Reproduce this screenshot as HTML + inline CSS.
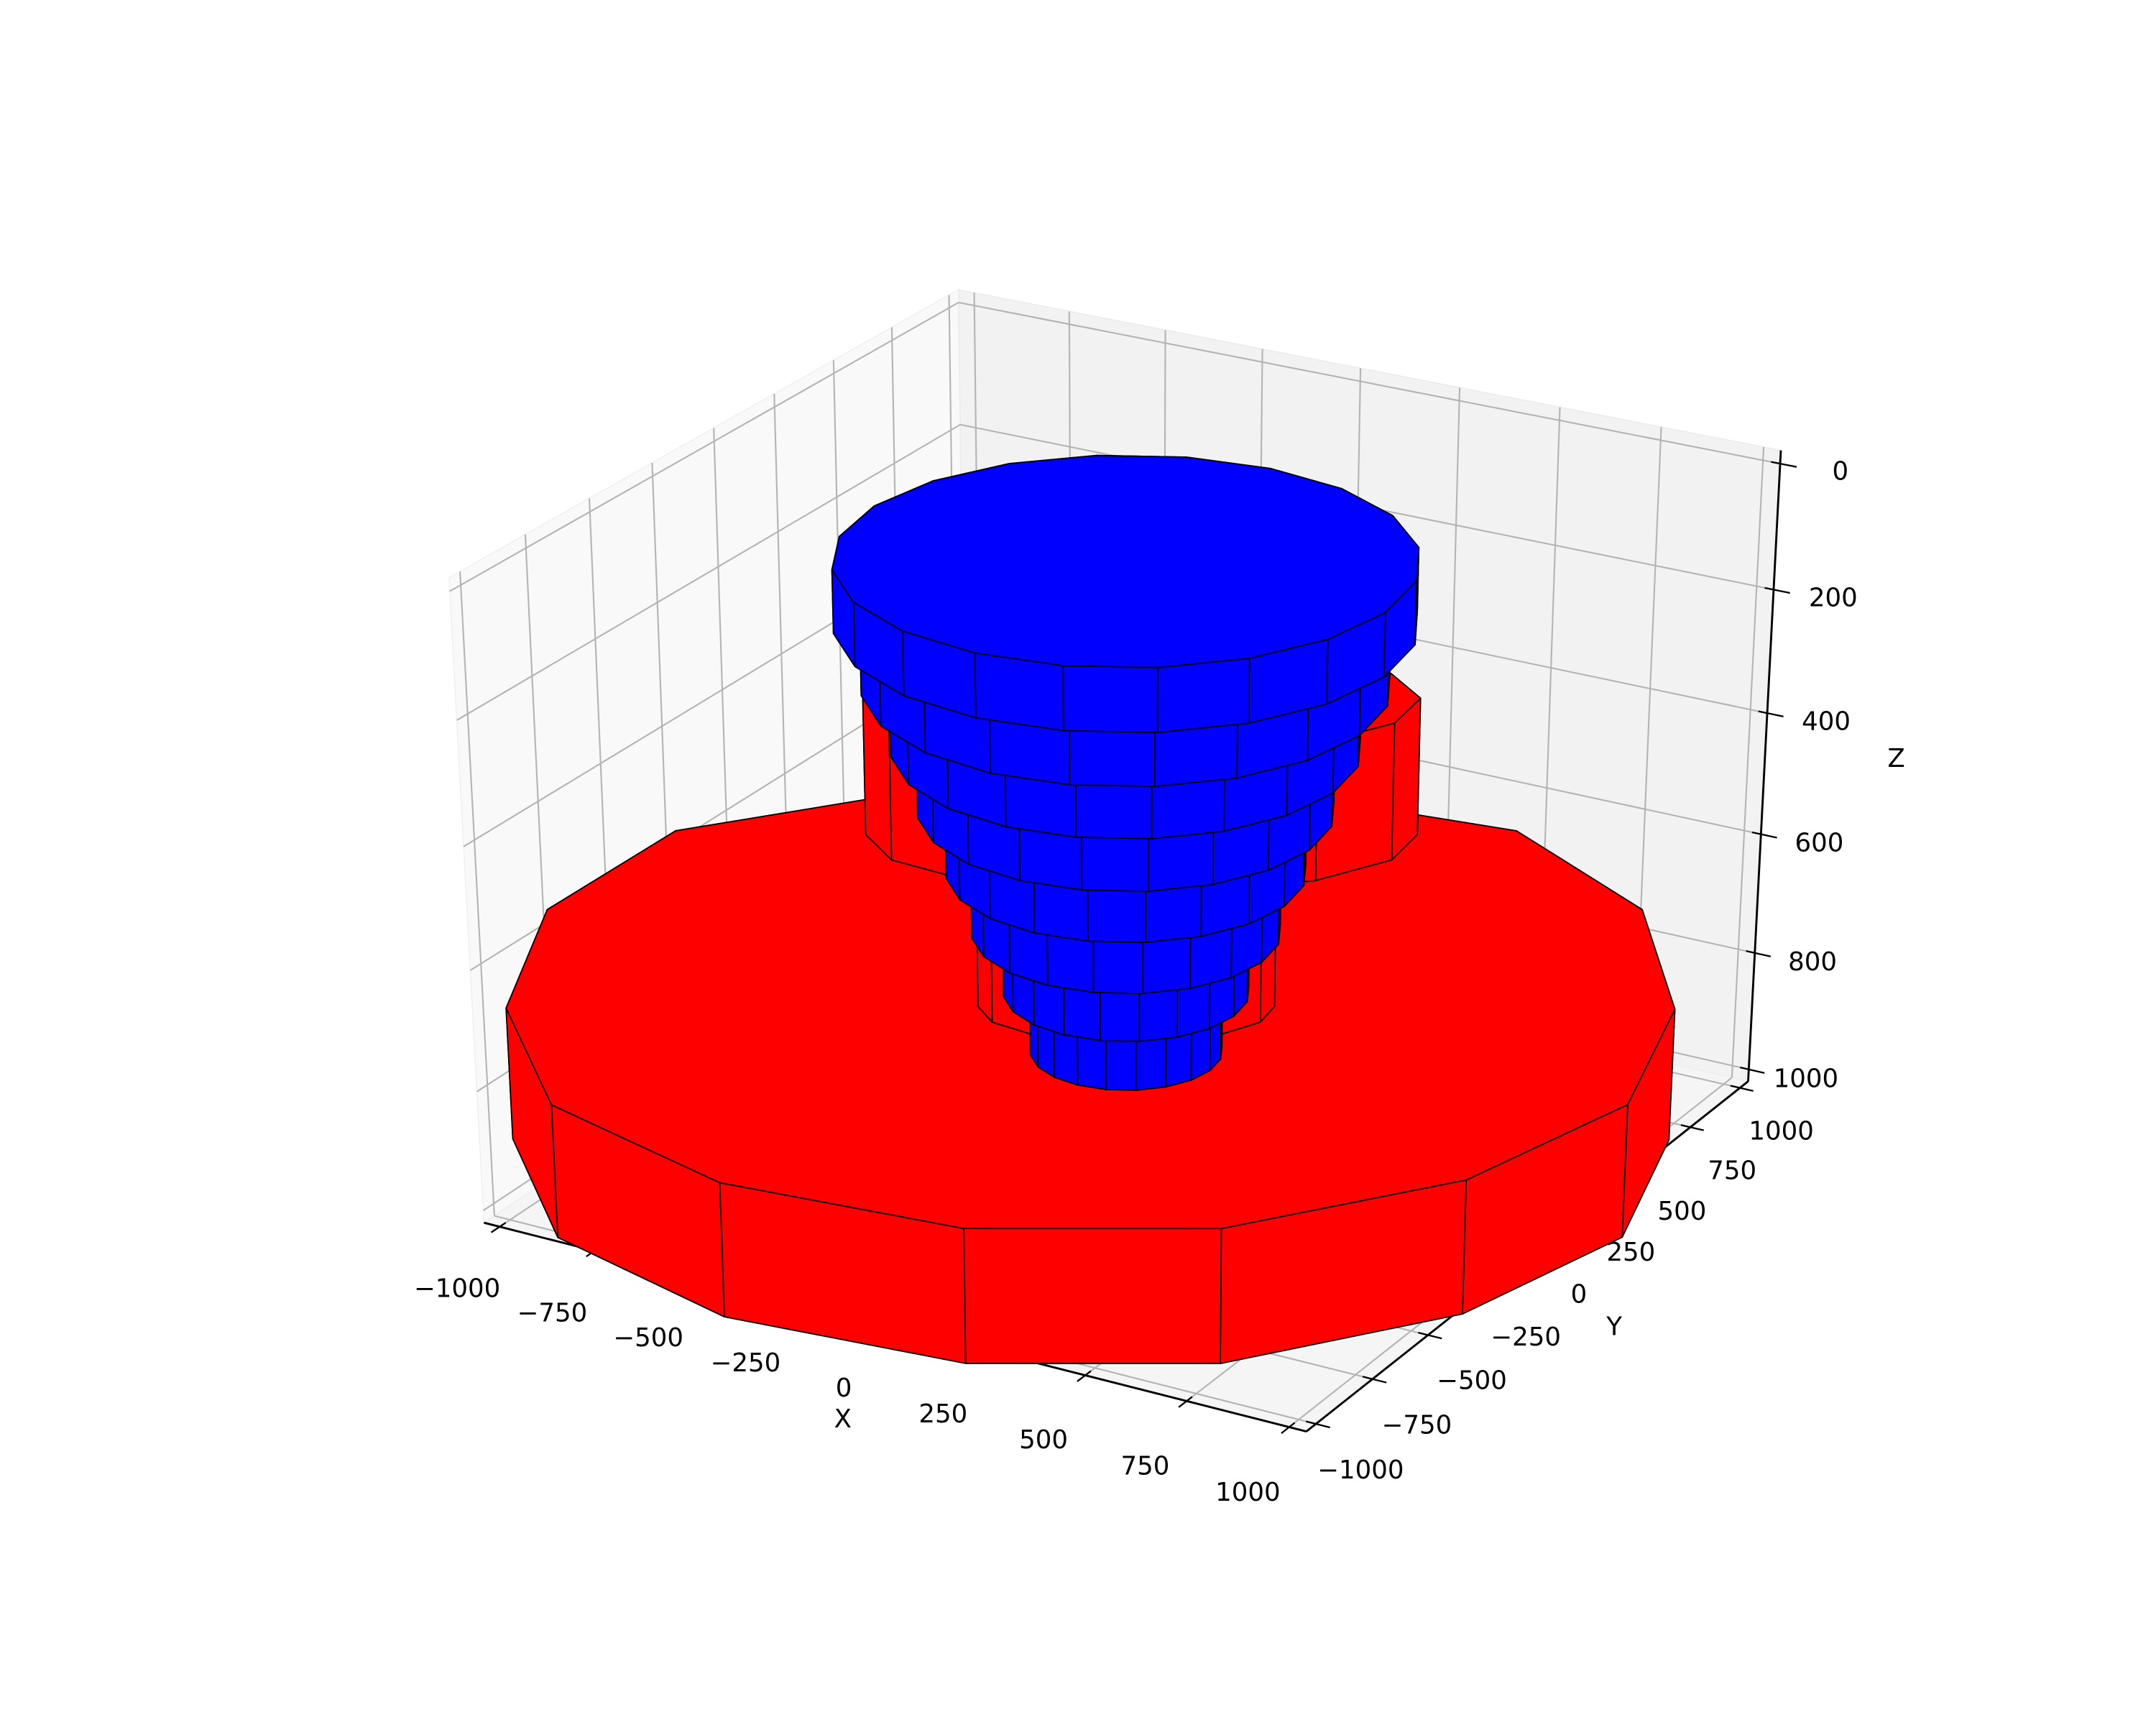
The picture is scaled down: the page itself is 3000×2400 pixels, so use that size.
<!DOCTYPE html>
<html><head><meta charset="utf-8"><title>3D prisms</title>
<style>html,body{margin:0;padding:0;background:#fff}svg{display:block}</style></head>
<body>
<svg id="chart" xmlns="http://www.w3.org/2000/svg" width="3000" height="2400" viewBox="0 0 1560 1248" preserveAspectRatio="none">
<rect x="0" y="0" width="1560" height="1248" fill="#ffffff"/>
<g id="panes"></g>
<g id="grid"></g>
<g id="axes"></g>
<g id="shapes"></g>
</svg>
<script>
// ---- data ----
const xTicks = [-1000, -750, -500, -250, 0, 250, 500, 750, 1000];
const yTicks = [-1000, -750, -500, -250, 0, 250, 500, 750, 1000];
const zTicks = [0, 200, 400, 600, 800, 1000];
const xTickLabels = ["\u22121000", "\u2212750", "\u2212500", "\u2212250", "0", "250", "500", "750", "1000"];
const yTickLabels = ["\u22121000", "\u2212750", "\u2212500", "\u2212250", "0", "250", "500", "750", "1000"];
const zTickLabels = ["0", "200", "400", "600", "800", "1000"];
// red base slab (14-gon footprint)
const redDiskX = [-1195, -822, -290, 280, 752, 1085, 1205, 1060, 740, 275, -420, -1000, -1416, -1420];
const redDiskY = [-690, -1077, -1235, -1172, -900, -425, 95, 605, 1069, 1336, 1250, 920, 360, -178];
const redDiskZTop = 778;
const redDiskZBottom = 1000;
// red inner column layers (elongated 14-gons)
const redColTop = [270, 560];
const redColBottom = [490, 775];
const redColRu = [605, 330];
const redColRv = [330, 200];
const redColCenterX = [30, 0];
const redColCenterY = [15, 0];
// blue stacked layers
const blueTop = [50, 150, 250, 350, 450, 550, 650, 750];
const blueBottom = [150, 250, 350, 450, 550, 650, 750, 850];
const blueRadius = [633, 576, 514, 458, 398, 343, 274, 215];

// ---- projection (elev 30, azim -60) ----
const NS = "http://www.w3.org/2000/svg";
const CX = 814.9, CY = 607.9, KX = 6594, KY = 5113;
const el = 30 * Math.PI / 180, az = -60 * Math.PI / 180;
const pv = [Math.cos(el) * Math.cos(az), Math.cos(el) * Math.sin(az), Math.sin(el)];
let uv = [-pv[1], pv[0], 0];
const un = Math.hypot(uv[0], uv[1]); uv = [uv[0] / un, uv[1] / un, 0];
const vv = [pv[1] * uv[2] - pv[2] * uv[1], pv[2] * uv[0] - pv[0] * uv[2], pv[0] * uv[1] - pv[1] * uv[0]];
function proj(x, y, z) {
  const X = (x + 1000) / 2000 - 0.5, Y = (y + 1000) / 2000 - 0.5, Z = (1000 - z) / 1000 - 0.5;
  const u = uv[0] * X + uv[1] * Y;
  const v = vv[0] * X + vv[1] * Y + vv[2] * Z;
  const D = 10 - (pv[0] * X + pv[1] * Y + pv[2] * Z);
  return [CX + KX * u / D, CY - KY * v / D, D];
}
const XB0 = -1000 - 2000 / 48, XB1 = 1000 + 2000 / 48;
const YB0 = XB0, YB1 = XB1;
const ZT = -1000 / 48, ZF = 1000 + 1000 / 48;

function mk(tag, parent, attrs) {
  const e = document.createElementNS(NS, tag);
  for (const k in attrs) e.setAttribute(k, attrs[k]);
  parent.appendChild(e);
  return e;
}
function ptsStr(pts3) { return pts3.map(p => { const q = proj(p[0], p[1], p[2]); return q[0].toFixed(2) + "," + q[1].toFixed(2); }).join(" "); }
function line3(parent, a, b, stroke, w) {
  const p = proj(a[0], a[1], a[2]), q = proj(b[0], b[1], b[2]);
  return mk("line", parent, { x1: p[0], y1: p[1], x2: q[0], y2: q[1], stroke: stroke, "stroke-width": w, "stroke-linecap": "butt" });
}
function text3(parent, p3, str, size) {
  const p = proj(p3[0], p3[1], p3[2]);
  const t = mk("text", parent, { x: p[0], y: p[1], "font-size": size, "font-family": "'DejaVu Sans','Liberation Sans',sans-serif", "text-anchor": "middle", "dominant-baseline": "central", fill: "#000" });
  t.textContent = str;
  return t;
}

// ---- panes ----
const gP = document.getElementById("panes");
let pane = mk("polygon", gP, { points: ptsStr([[XB0, YB0, ZF], [XB0, YB1, ZF], [XB0, YB1, ZT], [XB0, YB0, ZT]]), fill: "#f9f9f9", stroke: "#f0f0f0", "stroke-width": 0.8 });


pane = mk("polygon", gP, { points: ptsStr([[XB0, YB1, ZF], [XB1, YB1, ZF], [XB1, YB1, ZT], [XB0, YB1, ZT]]), fill: "#f2f2f2", stroke: "#ebebeb", "stroke-width": 0.8 });


pane = mk("polygon", gP, { points: ptsStr([[XB0, YB0, ZF], [XB1, YB0, ZF], [XB1, YB1, ZF], [XB0, YB1, ZF]]), fill: "#f5f5f5", stroke: "#eeeeee", "stroke-width": 0.8 });



// ---- grid ----
const gG = document.getElementById("grid");
const GC = "#b4b4b4", GW = 1.1;
xTicks.forEach(t => {
  let l = line3(gG, [t, YB0, ZF], [t, YB1, ZF], GC, GW);
  
  
  l = line3(gG, [t, YB1, ZF], [t, YB1, ZT], GC, GW);
  
  
});
yTicks.forEach(t => {
  let l = line3(gG, [XB0, t, ZF], [XB1, t, ZF], GC, GW);
  
  
  l = line3(gG, [XB0, t, ZF], [XB0, t, ZT], GC, GW);
  
  
});
zTicks.forEach(t => {
  let l = line3(gG, [XB0, YB0, t], [XB0, YB1, t], GC, GW);
  
  
  l = line3(gG, [XB0, YB1, t], [XB1, YB1, t], GC, GW);
  
  
});

// ---- axes ----
const gA = document.getElementById("axes");
let ax = line3(gA, [XB0, YB0, ZF], [XB1, YB0, ZF], "#000", 1.5);


ax = line3(gA, [XB1, YB0, ZF], [XB1, YB1, ZF], "#000", 1.5);


ax = line3(gA, [XB1, YB1, ZT], [XB1, YB1, ZF], "#000", 1.5);


const FS = 18.5;
xTicks.forEach((t, i) => {
  const tk = line3(gA, [t, YB0 + 24, ZF], [t, YB0 - 34, ZF], "#000", 1.2);
  
  
  const lb = text3(gA, [t, YB0 - 177, ZF + 55], xTickLabels[i], FS);
  
  
});
yTicks.forEach((t, i) => {
  const tk = line3(gA, [XB1 - 24, t, ZF], [XB1 + 34, t, ZF], "#000", 1.2);
  
  
  const lb = text3(gA, [XB1 + 110, t, ZF + 58], yTickLabels[i], FS);
  
  
});
zTicks.forEach((t, i) => {
  const tk = line3(gA, [XB1 - 22, YB1, t], [XB1 + 40, YB1, t], "#000", 1.2);
  
  
  const lb = text3(gA, [XB1 + 145, YB1, t - 6], zTickLabels[i], FS);
  
  
});
let tt = text3(gA, [0, YB0 - 184, ZF + 105], "X", FS);


tt = text3(gA, [XB1 + 200, 0, ZF + 98], "Y", FS);


tt = text3(gA, [XB1 + 320, YB1, 430], "Z", FS);



// ---- solids ----
const gS = document.getElementById("shapes");
function drawPrism(xs, ys, zTop, zBot, fill, name) {
  const g = mk("g", gS, {});
  
  
  const n = xs.length;
  const bot = xs.map((x, i) => [x, ys[i], zBot]);
  const top = xs.map((x, i) => [x, ys[i], zTop]);
  const st = { fill: fill, stroke: "#000", "stroke-width": 0.9, "stroke-linejoin": "round" };
  const b = mk("polygon", g, Object.assign({ points: ptsStr(bot) }, st));
  
  
  const sides = [];
  for (let i = 0; i < n; i++) {
    const j = (i + 1) % n;
    const quad = [bot[i], bot[j], top[j], top[i]];
    const depth = quad.reduce((s, p) => s + proj(p[0], p[1], p[2])[2], 0) / 4;
    sides.push({ quad: quad, depth: depth });
  }
  sides.sort((a, c) => c.depth - a.depth);
  sides.forEach(s => {
    const f = mk("polygon", g, Object.assign({ points: ptsStr(s.quad) }, st));
    
    
  });
  const t = mk("polygon", g, Object.assign({ points: ptsStr(top) }, st));
  
  
}
function regular(cx, cy, r, n, phaseDeg) {
  const xs = [], ys = [];
  for (let k = 0; k < n; k++) {
    const a = (phaseDeg + k * 360 / n) * Math.PI / 180;
    xs.push(cx + r * Math.cos(a)); ys.push(cy + r * Math.sin(a));
  }
  return [xs, ys];
}
function ellipsePoly(cx, cy, ru, rv, n) {
  const xs = [], ys = [];
  for (let k = 0; k < n; k++) {
    const a = k * 2 * Math.PI / n;
    const a1 = ru * Math.cos(a), b1 = rv * Math.sin(a);
    xs.push(cx + a1 * 0.8660 - b1 * 0.5);
    ys.push(cy + a1 * 0.5 + b1 * 0.8660);
  }
  return [xs, ys];
}
drawPrism(redDiskX, redDiskY, redDiskZTop, redDiskZBottom, "#ff0000", "red-base-slab");
for (let i = redColTop.length - 1; i >= 0; i--) {
  const p = ellipsePoly(redColCenterX[i], redColCenterY[i], redColRu[i], redColRv[i], 14);
  drawPrism(p[0], p[1], redColTop[i], redColBottom[i], "#ff0000", "red-column-layer-" + (i + 1));
}
for (let i = blueTop.length - 1; i >= 0; i--) {
  const p = regular(0, 0, blueRadius[i], 20, 0);
  drawPrism(p[0], p[1], blueTop[i], blueBottom[i], "#0000ff", "blue-layer-" + (i + 1));
}
</script>
</body></html>
